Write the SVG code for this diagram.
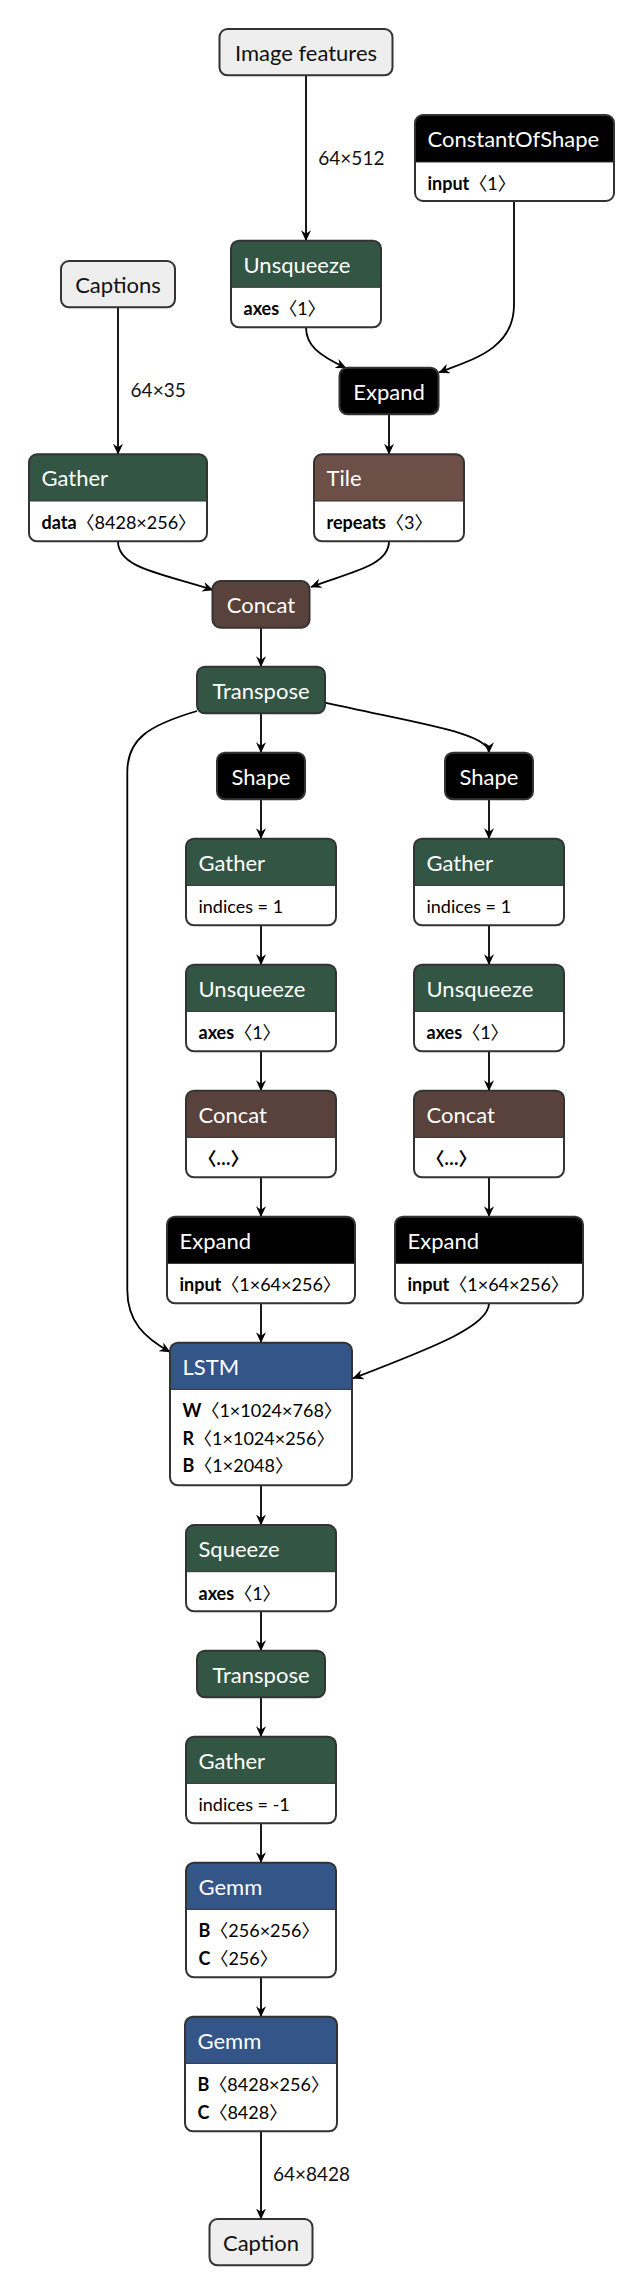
<svg xmlns="http://www.w3.org/2000/svg" width="644" height="2296" viewBox="0 0 644 2296">
<style>
text { font-family: Lato, "Noto Sans CJK SC", sans-serif; }
.hd { font-size: 22px; fill: #fff; }
.hc { font-size: 22px; fill: #fff; text-anchor: middle; }
.it { font-size: 22px; fill: #111; text-anchor: middle; }
.at { font-size: 18px; fill: #000; }
.b { font-weight: 700; }
.lbl { font-size: 19px; fill: #111; }
.bd { fill: none; stroke: #333; stroke-width: 2; }
.body { fill: #fff; }
.sep { stroke: #333; stroke-width: 1; }
.inp { fill: #eee; stroke: #333; stroke-width: 2; }
.tr { fill: #335544; }
.sh { fill: #6c4f47; }
.tn { fill: #59423b; }
.ly { fill: #335588; }
.bk { fill: #000; }
.e { fill: none; stroke: #000; stroke-width: 1.8; marker-end: url(#arr); }
</style>
<defs>
<marker id="arr" viewBox="0 0 11 10" refX="10.5" refY="5" markerWidth="11" markerHeight="10" markerUnits="userSpaceOnUse" orient="auto">
<path d="M0,0 L11,5 L0,10 L3.5,5 z" fill="#000"/>
</marker>
</defs>
<rect width="644" height="2296" fill="#fff"/>

<g id="edges">
<path class="e" d="M306,75.3 V240.7"/>
<text class="lbl" x="318.3" y="165">64×512</text>
<path class="e" d="M118,307.3 V454.3"/>
<text class="lbl" x="130.6" y="397">64×35</text>
<path class="e" d="M306,327.3 C306,345 318,355 346,368"/>
<path class="e" d="M514,201 L514,305 C514,350 470,360 439,372.5"/>
<path class="e" d="M389,414.3 V454.3"/>
<path class="e" d="M118,541.3 C118,568 160,573 213,590"/>
<path class="e" d="M389,541.3 C389,566 350,572 311,587"/>
<path class="e" d="M261,627.7 V666.7"/>
<path class="e" d="M261,713.3 V752.7"/>
<path class="e" d="M325,702.7 C420,724 489,733 489,752.7"/>
<path class="e" d="M197,711 C150,725 127.3,738 127.3,772 L127.3,1290 C127.3,1322 145,1338 170,1352"/>
<path class="e" d="M261,799.3 V838.7"/>
<path class="e" d="M489,799.3 V838.7"/>
<path class="e" d="M261,925.3 V964.7"/>
<path class="e" d="M489,925.3 V964.7"/>
<path class="e" d="M261,1051.3 V1090.7"/>
<path class="e" d="M489,1051.3 V1090.7"/>
<path class="e" d="M261,1177.3 V1216.7"/>
<path class="e" d="M489,1177.3 V1216.7"/>
<path class="e" d="M261,1303.3 V1342.7"/>
<path class="e" d="M489,1303.3 C489,1325 440,1345 353,1378.3"/>
<path class="e" d="M261,1485.3 V1525"/>
<path class="e" d="M261,1611.3 V1650.7"/>
<path class="e" d="M261,1697.3 V1736.7"/>
<path class="e" d="M261,1823.3 V1862.7"/>
<path class="e" d="M261,1977.3 V2016.7"/>
<path class="e" d="M261,2131.3 V2219"/>
<text class="lbl" x="273" y="2180.5">64×8428</text>
</g>

<g id="in_image_features">
<rect class="inp" x="219.5" y="29" width="173" height="46.3" rx="8"/>
<text class="it" x="306" y="61">Image features</text>
</g>

<g id="n_constantofshape">
<rect class="body" x="415" y="115" width="199" height="86" rx="8"/>
<path class="bk" d="M415,162 V123 A8,8 0 0 1 423,115 H606 A8,8 0 0 1 614,123 V162 Z"/>
<line class="sep" x1="415" y1="162" x2="614" y2="162"/>
<rect class="bd" x="415" y="115" width="199" height="86" rx="8"/>
<text class="hd" x="427.5" y="147">ConstantOfShape</text>
<text class="at" x="427.5" y="190"><tspan class="b">input</tspan>〈1〉</text>
</g>

<g id="n_unsqueeze_top">
<rect class="body" x="231" y="240.7" width="150" height="86.6" rx="8"/>
<path class="tr" d="M231,287.3 V248.7 A8,8 0 0 1 239,240.7 H373 A8,8 0 0 1 381,248.7 V287.3 Z"/>
<line class="sep" x1="231" y1="287.3" x2="381" y2="287.3"/>
<rect class="bd" x="231" y="240.7" width="150" height="86.6" rx="8"/>
<text class="hd" x="243.5" y="272.7">Unsqueeze</text>
<text class="at" x="243.5" y="315.3"><tspan class="b">axes</tspan>〈1〉</text>
</g>

<g id="in_captions">
<rect class="inp" x="61" y="261" width="114" height="46.3" rx="8"/>
<text class="it" x="118" y="293">Captions</text>
</g>

<g id="n_expand_top">
<rect class="bk" x="339.5" y="367.7" width="99" height="46.6" rx="8" stroke="#333" stroke-width="2"/>
<text class="hc" x="389" y="399.7">Expand</text>
</g>

<g id="n_gather_data">
<rect class="body" x="29" y="454.3" width="178" height="87" rx="8"/>
<path class="tr" d="M29,501 V462.3 A8,8 0 0 1 37,454.3 H199 A8,8 0 0 1 207,462.3 V501 Z"/>
<line class="sep" x1="29" y1="501" x2="207" y2="501"/>
<rect class="bd" x="29" y="454.3" width="178" height="87" rx="8"/>
<text class="hd" x="41.5" y="486.3">Gather</text>
<text class="at" x="41.5" y="529"><tspan class="b">data</tspan>〈8428×256〉</text>
</g>

<g id="n_tile">
<rect class="body" x="314" y="454.3" width="150" height="87" rx="8"/>
<path class="sh" d="M314,501 V462.3 A8,8 0 0 1 322,454.3 H456 A8,8 0 0 1 464,462.3 V501 Z"/>
<line class="sep" x1="314" y1="501" x2="464" y2="501"/>
<rect class="bd" x="314" y="454.3" width="150" height="87" rx="8"/>
<text class="hd" x="326.5" y="486.3">Tile</text>
<text class="at" x="326.5" y="529"><tspan class="b">repeats</tspan>〈3〉</text>
</g>

<g id="n_concat_top">
<rect class="tn" x="212.5" y="581" width="97" height="46.7" rx="8" stroke="#333" stroke-width="2"/>
<text class="hc" x="261" y="613">Concat</text>
</g>

<g id="n_transpose_1">
<rect class="tr" x="197" y="666.7" width="128" height="46.6" rx="8" stroke="#333" stroke-width="2"/>
<text class="hc" x="261" y="698.7">Transpose</text>
</g>

<g id="n_shape_left">
<rect class="bk" x="217" y="752.7" width="88" height="46.6" rx="8" stroke="#333" stroke-width="2"/>
<text class="hc" x="261" y="784.7">Shape</text>
</g>

<g id="n_shape_right">
<rect class="bk" x="445" y="752.7" width="88" height="46.6" rx="8" stroke="#333" stroke-width="2"/>
<text class="hc" x="489" y="784.7">Shape</text>
</g>

<g id="n_gather_left">
<rect class="body" x="186" y="838.7" width="150" height="86.6" rx="8"/>
<path class="tr" d="M186,885.4 V846.7 A8,8 0 0 1 194,838.7 H328 A8,8 0 0 1 336,846.7 V885.4 Z"/>
<line class="sep" x1="186" y1="885.4" x2="336" y2="885.4"/>
<rect class="bd" x="186" y="838.7" width="150" height="86.6" rx="8"/>
<text class="hd" x="198.5" y="870.7">Gather</text>
<text class="at" x="198.5" y="913.4">indices = 1</text>
</g>

<g id="n_gather_right">
<rect class="body" x="414" y="838.7" width="150" height="86.6" rx="8"/>
<path class="tr" d="M414,885.4 V846.7 A8,8 0 0 1 422,838.7 H556 A8,8 0 0 1 564,846.7 V885.4 Z"/>
<line class="sep" x1="414" y1="885.4" x2="564" y2="885.4"/>
<rect class="bd" x="414" y="838.7" width="150" height="86.6" rx="8"/>
<text class="hd" x="426.5" y="870.7">Gather</text>
<text class="at" x="426.5" y="913.4">indices = 1</text>
</g>

<g id="n_unsqueeze_left">
<rect class="body" x="186" y="964.7" width="150" height="86.6" rx="8"/>
<path class="tr" d="M186,1011.4 V972.7 A8,8 0 0 1 194,964.7 H328 A8,8 0 0 1 336,972.7 V1011.4 Z"/>
<line class="sep" x1="186" y1="1011.4" x2="336" y2="1011.4"/>
<rect class="bd" x="186" y="964.7" width="150" height="86.6" rx="8"/>
<text class="hd" x="198.5" y="996.7">Unsqueeze</text>
<text class="at" x="198.5" y="1039.4"><tspan class="b">axes</tspan>〈1〉</text>
</g>

<g id="n_unsqueeze_right">
<rect class="body" x="414" y="964.7" width="150" height="86.6" rx="8"/>
<path class="tr" d="M414,1011.4 V972.7 A8,8 0 0 1 422,964.7 H556 A8,8 0 0 1 564,972.7 V1011.4 Z"/>
<line class="sep" x1="414" y1="1011.4" x2="564" y2="1011.4"/>
<rect class="bd" x="414" y="964.7" width="150" height="86.6" rx="8"/>
<text class="hd" x="426.5" y="996.7">Unsqueeze</text>
<text class="at" x="426.5" y="1039.4"><tspan class="b">axes</tspan>〈1〉</text>
</g>

<g id="n_concat_left">
<rect class="body" x="186" y="1090.7" width="150" height="86.6" rx="8"/>
<path class="tn" d="M186,1137.4 V1098.7 A8,8 0 0 1 194,1090.7 H328 A8,8 0 0 1 336,1098.7 V1137.4 Z"/>
<line class="sep" x1="186" y1="1137.4" x2="336" y2="1137.4"/>
<rect class="bd" x="186" y="1090.7" width="150" height="86.6" rx="8"/>
<text class="hd" x="198.5" y="1122.7">Concat</text>
<text class="at b" x="198.5" y="1165.4">〈…〉</text>
</g>

<g id="n_concat_right">
<rect class="body" x="414" y="1090.7" width="150" height="86.6" rx="8"/>
<path class="tn" d="M414,1137.4 V1098.7 A8,8 0 0 1 422,1090.7 H556 A8,8 0 0 1 564,1098.7 V1137.4 Z"/>
<line class="sep" x1="414" y1="1137.4" x2="564" y2="1137.4"/>
<rect class="bd" x="414" y="1090.7" width="150" height="86.6" rx="8"/>
<text class="hd" x="426.5" y="1122.7">Concat</text>
<text class="at b" x="426.5" y="1165.4">〈…〉</text>
</g>

<g id="n_expand_left">
<rect class="body" x="167" y="1216.7" width="188" height="86.6" rx="8"/>
<path class="bk" d="M167,1263.4 V1224.7 A8,8 0 0 1 175,1216.7 H347 A8,8 0 0 1 355,1224.7 V1263.4 Z"/>
<line class="sep" x1="167" y1="1263.4" x2="355" y2="1263.4"/>
<rect class="bd" x="167" y="1216.7" width="188" height="86.6" rx="8"/>
<text class="hd" x="179.5" y="1248.7">Expand</text>
<text class="at" x="179.5" y="1291.4"><tspan class="b">input</tspan>〈1×64×256〉</text>
</g>

<g id="n_expand_right">
<rect class="body" x="395" y="1216.7" width="188" height="86.6" rx="8"/>
<path class="bk" d="M395,1263.4 V1224.7 A8,8 0 0 1 403,1216.7 H575 A8,8 0 0 1 583,1224.7 V1263.4 Z"/>
<line class="sep" x1="395" y1="1263.4" x2="583" y2="1263.4"/>
<rect class="bd" x="395" y="1216.7" width="188" height="86.6" rx="8"/>
<text class="hd" x="407.5" y="1248.7">Expand</text>
<text class="at" x="407.5" y="1291.4"><tspan class="b">input</tspan>〈1×64×256〉</text>
</g>

<g id="n_lstm">
<rect class="body" x="170" y="1342.7" width="182" height="142.6" rx="8"/>
<path class="ly" d="M170,1389.4 V1350.7 A8,8 0 0 1 178,1342.7 H344 A8,8 0 0 1 352,1350.7 V1389.4 Z"/>
<line class="sep" x1="170" y1="1389.4" x2="352" y2="1389.4"/>
<rect class="bd" x="170" y="1342.7" width="182" height="142.6" rx="8"/>
<text class="hd" x="182.5" y="1374.7">LSTM</text>
<text class="at" x="182.5" y="1417"><tspan class="b">W</tspan>〈1×1024×768〉</text>
<text class="at" x="182.5" y="1444.7"><tspan class="b">R</tspan>〈1×1024×256〉</text>
<text class="at" x="182.5" y="1472.4"><tspan class="b">B</tspan>〈1×2048〉</text>
</g>

<g id="n_squeeze">
<rect class="body" x="186" y="1525" width="150" height="86.3" rx="8"/>
<path class="tr" d="M186,1571.7 V1533 A8,8 0 0 1 194,1525 H328 A8,8 0 0 1 336,1533 V1571.7 Z"/>
<line class="sep" x1="186" y1="1571.7" x2="336" y2="1571.7"/>
<rect class="bd" x="186" y="1525" width="150" height="86.3" rx="8"/>
<text class="hd" x="198.5" y="1557">Squeeze</text>
<text class="at" x="198.5" y="1599.7"><tspan class="b">axes</tspan>〈1〉</text>
</g>

<g id="n_transpose_2">
<rect class="tr" x="197" y="1650.7" width="128" height="46.6" rx="8" stroke="#333" stroke-width="2"/>
<text class="hc" x="261" y="1682.7">Transpose</text>
</g>

<g id="n_gather_last">
<rect class="body" x="186" y="1736.7" width="150" height="86.6" rx="8"/>
<path class="tr" d="M186,1783.4 V1744.7 A8,8 0 0 1 194,1736.7 H328 A8,8 0 0 1 336,1744.7 V1783.4 Z"/>
<line class="sep" x1="186" y1="1783.4" x2="336" y2="1783.4"/>
<rect class="bd" x="186" y="1736.7" width="150" height="86.6" rx="8"/>
<text class="hd" x="198.5" y="1768.7">Gather</text>
<text class="at" x="198.5" y="1811.4">indices = -1</text>
</g>

<g id="n_gemm_1">
<rect class="body" x="186" y="1862.7" width="150" height="114.6" rx="8"/>
<path class="ly" d="M186,1909.4 V1870.7 A8,8 0 0 1 194,1862.7 H328 A8,8 0 0 1 336,1870.7 V1909.4 Z"/>
<line class="sep" x1="186" y1="1909.4" x2="336" y2="1909.4"/>
<rect class="bd" x="186" y="1862.7" width="150" height="114.6" rx="8"/>
<text class="hd" x="198.5" y="1894.7">Gemm</text>
<text class="at" x="198.5" y="1937"><tspan class="b">B</tspan>〈256×256〉</text>
<text class="at" x="198.5" y="1964.6"><tspan class="b">C</tspan>〈256〉</text>
</g>

<g id="n_gemm_2">
<rect class="body" x="185" y="2016.7" width="152" height="114.6" rx="8"/>
<path class="ly" d="M185,2063.4 V2024.7 A8,8 0 0 1 193,2016.7 H329 A8,8 0 0 1 337,2024.7 V2063.4 Z"/>
<line class="sep" x1="185" y1="2063.4" x2="337" y2="2063.4"/>
<rect class="bd" x="185" y="2016.7" width="152" height="114.6" rx="8"/>
<text class="hd" x="197.5" y="2048.7">Gemm</text>
<text class="at" x="197.5" y="2091"><tspan class="b">B</tspan>〈8428×256〉</text>
<text class="at" x="197.5" y="2118.6"><tspan class="b">C</tspan>〈8428〉</text>
</g>

<g id="out_caption">
<rect class="inp" x="209.5" y="2219" width="103" height="46.3" rx="8"/>
<text class="it" x="261" y="2251">Caption</text>
</g>
</svg>
